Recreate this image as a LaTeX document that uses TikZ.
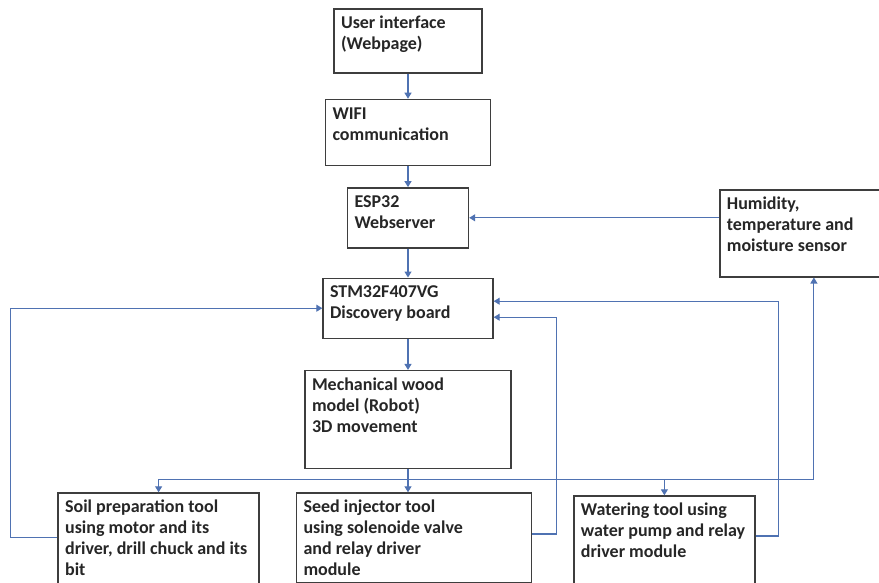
\documentclass[tikz,border=0pt]{standalone}
\usepackage{fontspec}
\usepackage{xcolor}
\usepackage{tikz}
\usetikzlibrary{arrows.meta,positioning,calc}
\newfontfamily\blockfont{Carlito}
\definecolor{linkblue}{RGB}{79,114,178}
\definecolor{boxgray}{RGB}{62,62,62}
\newcommand{\blocktext}[3]{\parbox[t][#2][t]{#1}{\raggedright\strut #3}}
\tikzset{
    block/.style={
        rectangle, draw=boxgray, line width=1.4pt,
        inner xsep=7pt, inner ysep=5pt, text=black!85,
        font=\blockfont\bfseries\fontsize{18pt}{21pt}\selectfont
    },
    link/.style={draw=linkblue, line width=1.1pt},
    arrow/.style={link, -{Triangle[length=6pt,width=7pt]}}
}
\begin{document}
\begin{tikzpicture}

\useasboundingbox[fill=white] (0,0) rectangle (879pt,-582pt);

% Main column
\node[block] (ui) at (408pt,-41pt)
    {\blocktext{134pt}{54pt}{User interface\\(Webpage)}};
\node[block, below=25pt of ui] (wifi)
    {\blocktext{151pt}{56pt}{WIFI\\communication}};
\node[block, below=21pt of wifi] (esp)
    {\blocktext{107pt}{50pt}{ESP32\\Webserver}};
\node[block, below=29pt of esp] (stm)
    {\blocktext{156pt}{50pt}{STM32F407VG\\Discovery board}};
\node[block, below=31pt of stm] (mech)
    {\blocktext{192pt}{88pt}{Mechanical wood\\model (Robot)\\3D movement}};

% Sensor
\node[block, right=250pt of esp.north east, anchor=north west, yshift=-2pt] (hum)
    {\blocktext{146pt}{77pt}{Humidity,\\temperature and\\moisture sensor}};

% Tools row
\node[block, below=23pt of mech, xshift=6pt] (seed)
    {\blocktext{221pt}{80pt}{Seed injector tool\\using solenoide valve\\and relay driver\\module}};
\node[block, left=36pt of seed.north west, anchor=north east] (soil)
    {\blocktext{187pt}{94pt}{Soil preparation tool\\using motor and its\\driver, drill chuck and its\\bit}};
\node[block, right=41pt of seed.north east, anchor=north west, yshift=-3pt] (water)
    {\blocktext{167pt}{78pt}{Watering tool using\\water pump and relay\\driver module}};

% Forward links
\draw[arrow] (ui) -- (wifi);
\draw[arrow] (wifi) -- (esp);
\draw[arrow] (esp) -- (stm);
\draw[arrow] (stm) -- (mech);
\draw[arrow] (hum.west |- esp.east) -- (esp.east);

% Bus to the tools
\coordinate (bus) at ([yshift=-10pt]mech.south);
\draw[arrow] (mech.south) -- (mech.south |- seed.north);
\draw[arrow] (bus) -| (soil.north);
\draw[arrow] (bus) -| (water.north);
\draw[arrow] (bus) -| ([xshift=14pt]hum.south);

% Feedback to the board
\draw[arrow] ([yshift=-45pt]soil.north west) -- ++(-47pt,0) |- (stm.west);
\draw[arrow] ([yshift=4pt]seed.east) -| ([xshift=63pt,yshift=-9pt]stm.east)
    -- ([yshift=-9pt]stm.east);
\draw[arrow] ([yshift=4pt]water.east) -| ([xshift=285pt,yshift=7pt]stm.east)
    -- ([yshift=7pt]stm.east);

\end{tikzpicture}
\end{document}
